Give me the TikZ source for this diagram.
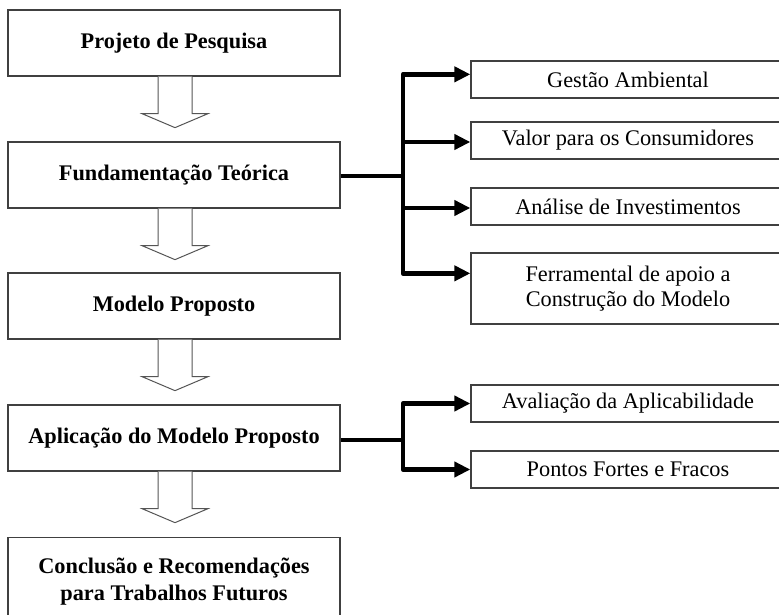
\documentclass[tikz,border=0pt]{standalone}
\usepackage{fontspec}
\setmainfont{Liberation Serif}
\usetikzlibrary{arrows.meta}
\definecolor{boxline}{HTML}{404040}
\definecolor{hollow}{HTML}{555555}
\begin{document}
\begin{tikzpicture}[x=1pt,y=-1pt,
  mainbox/.style={draw=boxline,line width=1.3pt,fill=white,minimum width=332pt,minimum height=66pt,inner sep=0pt,font=\fontsize{22.3}{27}\selectfont\bfseries,align=center},
  subbox/.style={draw=boxline,line width=1.3pt,fill=white,minimum width=314pt,minimum height=37pt,inner sep=0pt,font=\fontsize{22.3}{25}\selectfont,align=center},
  hollowarrow/.style={draw=hollow,line width=1pt,fill=white,line join=miter},
  conn/.style={line width=4.5pt,line join=round},
  connarr/.style={conn,-{Triangle[length=16pt,width=15pt]}}
]
\useasboundingbox (0,0) rectangle (779,615);
\clip (0,0) rectangle (779,615);

% main column
\node[mainbox] (proj) at (174,43) {Projeto de Pesquisa};
\node[mainbox] (fund) at (174,175) {Fundamentação Teórica};
\node[mainbox] (mod) at (174,306) {Modelo Proposto};
\node[mainbox] (apl) at (174,438) {Aplicação do Modelo Proposto};
\node[mainbox,minimum height=88pt,anchor=north] (conc) at (174,537) {Conclusão e Recomendações\\para Trabalhos Futuros};

% sub boxes
\node[subbox] (ges) at (628,79.5) {Gestão Ambiental};
\node[subbox] (val) at (628,140.5) {Valor para os Consumidores};
\node[subbox] (ana) at (628,206.5) {Análise de Investimentos};
\node[subbox,minimum height=71pt] (fer) at (628,288.5) {Ferramental de apoio a\\Construção do Modelo};
\node[subbox] (ava) at (628,403.5) {Avaliação da Aplicabilidade};
\node[subbox] (pon) at (628,469.5) {Pontos Fortes e Fracos};

% hollow arrows
\foreach \a/\b in {proj/fund,fund/mod,mod/apl,apl/conc}{
  \path[hollowarrow] ([xshift=-16pt]\a.south) -- ++(0,37) -- ++(-16,0) -- ++(33,14) -- ++(33,-14) -- ++(-16,0) -- ([xshift=18pt]\a.south);
}

% connectors, group 1
\coordinate (j1) at (403,176);
\draw[conn] (fund.east |- j1) -- (j1);
\draw[connarr] (j1) |- ([yshift=-14pt]ges.north west);
\draw[connarr] (j1) |- ([yshift=-1.5pt]val.west);
\draw[connarr] (j1) |- ([yshift=-1.5pt]ana.west);
\draw[connarr] (j1) |- ([yshift=-21pt]fer.north west);

% connectors, group 2
\coordinate (j2) at (403,440);
\draw[conn] (apl.east |- j2) -- (j2);
\draw[connarr] (j2) |- (ava.west);
\draw[connarr] (j2) |- (pon.west);
\end{tikzpicture}
\end{document}
